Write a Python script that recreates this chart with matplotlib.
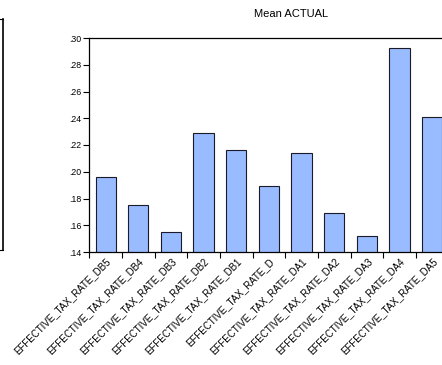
import matplotlib
matplotlib.use("Agg")
import matplotlib.pyplot as plt
from matplotlib.lines import Line2D

categories = ["EFFECTIVE_TAX_RATE_DB5", "EFFECTIVE_TAX_RATE_DB4", "EFFECTIVE_TAX_RATE_DB3",
              "EFFECTIVE_TAX_RATE_DB2", "EFFECTIVE_TAX_RATE_DB1", "EFFECTIVE_TAX_RATE_D",
              "EFFECTIVE_TAX_RATE_DA1", "EFFECTIVE_TAX_RATE_DA2", "EFFECTIVE_TAX_RATE_DA3",
              "EFFECTIVE_TAX_RATE_DA4", "EFFECTIVE_TAX_RATE_DA5"]
values = [0.1963, 0.1749, 0.1550, 0.2287, 0.2163, 0.1896, 0.2143, 0.1694, 0.1522, 0.2923, 0.2412]
yticks = [0.14, 0.16, 0.18, 0.20, 0.22, 0.24, 0.26, 0.28, 0.30]
ytick_labels = [".14", ".16", ".18", ".20", ".22", ".24", ".26", ".28", ".30"]

plt.rcParams['font.family'] = ['Liberation Sans', 'DejaVu Sans']

W, H = 442, 365
fig = plt.figure(figsize=(W/100, H/100), dpi=100)
ax = fig.add_axes([89.3/W, 1 - 252/H, (448.6-89.3)/W, 214/H])

x = list(range(len(categories)))
ax.bar(x, values, width=0.62, color="#99BBFF", edgecolor="#1a1a2a", linewidth=0.8)
ax.set_xlim(-0.5, len(categories) - 0.5)
ax.set_ylim(0.14, 0.30)
ax.set_yticks(yticks)
ax.set_yticklabels(ytick_labels, fontsize=6.3)
ax.set_xticks([i - 0.5 for i in range(len(categories) + 1)])
ax.set_xticklabels([])
ax.set_xticks(x, minor=True)
ax.set_xticklabels(categories, minor=True, rotation=45, ha="right", va="top",
                   rotation_mode="anchor", fontsize=7)
ax.tick_params(axis="x", which="minor", length=0, pad=3)
ax.tick_params(axis="both", which="major", length=4, width=0.8, direction="out", pad=1.5)
for s in ax.spines.values():
    s.set_linewidth(0.9)

fig.text(291/W, 1 - 14/H, "Mean ACTUAL", ha="center", va="center", fontsize=8)

# edge of neighbouring panel on the left
fig.add_artist(Line2D([2.5/W, 2.5/W], [1 - 19/H, 1 - 250/H], color="black", lw=1.2))
fig.add_artist(Line2D([0, 2.5/W], [1 - 19/H, 1 - 19/H], color="black", lw=0.8))
fig.add_artist(Line2D([0, 2.5/W], [1 - 250/H, 1 - 250/H], color="black", lw=0.8))

fig.savefig("out.png", dpi=100)
